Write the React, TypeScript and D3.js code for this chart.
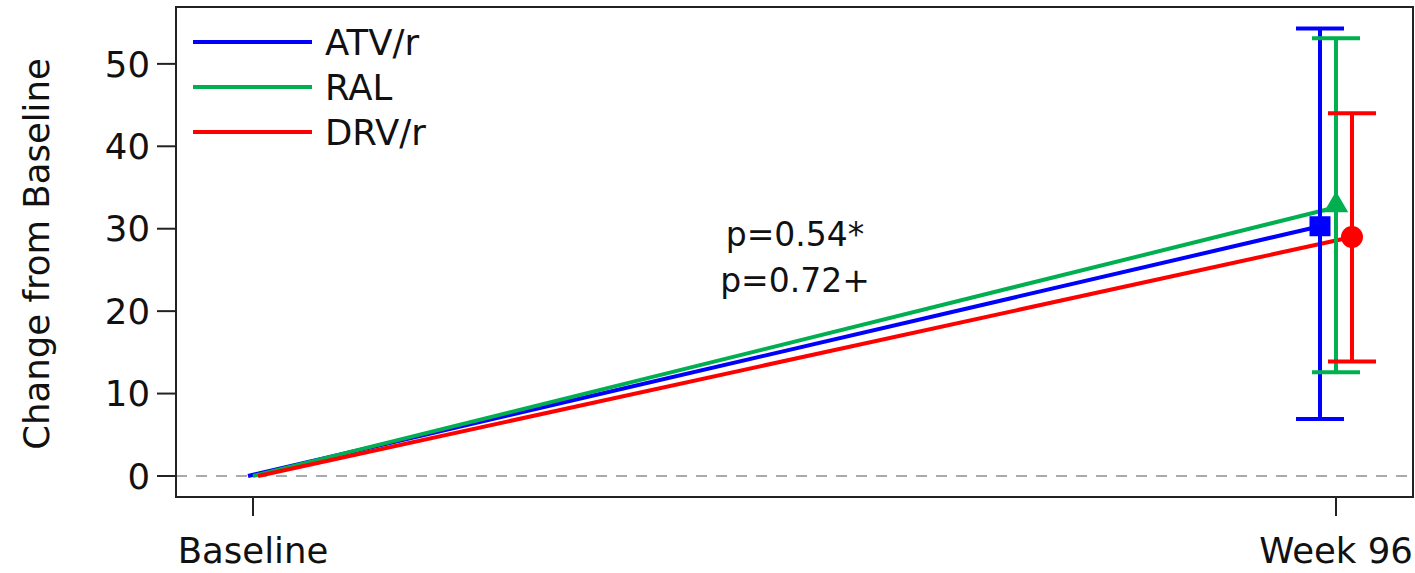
import React from "react";
import * as d3 from "d3";

const timepoints = ["Baseline", "Week 96"];
const seriesNames = ["ATV/r", "RAL", "DRV/r"];
const seriesColors = ["#0000ff", "#00b050", "#ff0000"];
const seriesMarkers = ["square", "triangle", "circle"];
const meanValues = [
  [0, 30.3],
  [0, 32.6],
  [0, 29.0],
];
const lowerCI = [6.9, 12.6, 13.9];
const upperCI = [54.3, 53.1, 44.0];
const yTicks = [0, 10, 20, 30, 40, 50];
const pTexts = ["p=0.54*", "p=0.72+"];

const W = 1415;
const H = 573;
const L = 176, R = 1413, T = 7, B = 497;
const FONT = "'DejaVu Sans', Verdana, sans-serif";
const FS = 35.5;
const FSP = 33;

export default function App() {
  const x = d3.scalePoint<string>().domain(timepoints).range([L, R]).padding(0.0711);
  const y = d3.scaleLinear().domain([-2.55, 56.9]).range([B, T]);
  const dodgeBase = [-5, 0, 5];
  const dodgeEnd = [-16, 0, 16];
  const dodges = [dodgeBase, dodgeEnd];

  const line = d3.line<[number, number]>().x((d) => d[0]).y((d) => d[1]);

  const marker = (type: string, cx: number, cy: number, color: string) => {
    if (type === "square") {
      return <rect x={cx - 10.5} y={cy - 10} width={21} height={20} fill={color} />;
    }
    if (type === "triangle") {
      const s = d3.symbol().type(d3.symbolTriangle).size(260)();
      return <path d={s || ""} transform={`translate(${cx},${cy - 2})`} fill={color} />;
    }
    return <circle cx={cx} cy={cy} r={11} fill={color} />;
  };

  const capHalf = 24;

  return (
    <svg width={W} height={H} style={{ position: "absolute", left: 0, top: 0, display: "block" }}>
      <rect x={0} y={0} width={W} height={H} fill="#fff" />
      {/* zero reference line */}
      <line x1={L} x2={R} y1={y(0)} y2={y(0)} stroke="#aaaaaa" strokeWidth={2} strokeDasharray="11,9" />

      {/* series lines */}
      {meanValues.map((vals, i) => {
        const pts: [number, number][] = vals.map((v, j) => [
          (x(timepoints[j]) as number) + dodges[j][i],
          y(v),
        ]);
        return (
          <path key={"l" + i} d={line(pts) || ""} fill="none" stroke={seriesColors[i]} strokeWidth={4} />
        );
      })}

      {/* error bars at Week 96 */}
      {seriesNames.map((_, i) => {
        const cx = (x(timepoints[1]) as number) + dodgeEnd[i];
        return (
          <g key={"e" + i} stroke={seriesColors[i]} strokeWidth={4}>
            <line x1={cx} x2={cx} y1={y(lowerCI[i])} y2={y(upperCI[i])} />
            <line x1={cx - capHalf} x2={cx + capHalf} y1={y(lowerCI[i])} y2={y(lowerCI[i])} />
            <line x1={cx - capHalf} x2={cx + capHalf} y1={y(upperCI[i])} y2={y(upperCI[i])} />
          </g>
        );
      })}

      {/* markers */}
      {seriesNames.map((_, i) => {
        const cx = (x(timepoints[1]) as number) + dodgeEnd[i];
        return <g key={"m" + i}>{marker(seriesMarkers[i], cx, y(meanValues[i][1]), seriesColors[i])}</g>;
      })}

      {/* frame */}
      <rect x={L} y={T} width={R - L} height={B - T} fill="none" stroke="#222" strokeWidth={2} />

      {/* y axis */}
      {yTicks.map((t) => (
        <g key={"yt" + t}>
          <line x1={L - 19} x2={L} y1={y(t)} y2={y(t)} stroke="#222" strokeWidth={2} />
          <text x={L - 26} y={y(t)} dy="0.36em" textAnchor="end" fontFamily={FONT} fontSize={FS} fill="#111">
            {t}
          </text>
        </g>
      ))}
      <text
        transform={`translate(49,${(T + B) / 2 + 2}) rotate(-90)`}
        textAnchor="middle"
        fontFamily={FONT}
        fontSize={FS}
        fill="#111"
      >
        Change from Baseline
      </text>

      {/* x axis */}
      {timepoints.map((tp) => (
        <g key={"xt" + tp}>
          <line x1={x(tp) as number} x2={x(tp) as number} y1={B} y2={B + 19} stroke="#222" strokeWidth={2} />
          <text x={x(tp) as number} y={B + 66} textAnchor="middle" fontFamily={FONT} fontSize={FS} fill="#111">
            {tp}
          </text>
        </g>
      ))}

      {/* p-values */}
      {pTexts.map((t, i) => (
        <text key={"p" + i} x={795} y={246 + i * 46} textAnchor="middle" fontFamily={FONT} fontSize={FSP} fill="#111">
          {t}
        </text>
      ))}

      {/* legend */}
      {seriesNames.map((n, i) => (
        <g key={"lg" + i}>
          <line x1={193} x2={312} y1={42 + i * 45} y2={42 + i * 45} stroke={seriesColors[i]} strokeWidth={4} />
          <text x={325} y={42 + i * 45} dy="0.36em" fontFamily={FONT} fontSize={FS} fill="#111">
            {n}
          </text>
        </g>
      ))}
    </svg>
  );
}
